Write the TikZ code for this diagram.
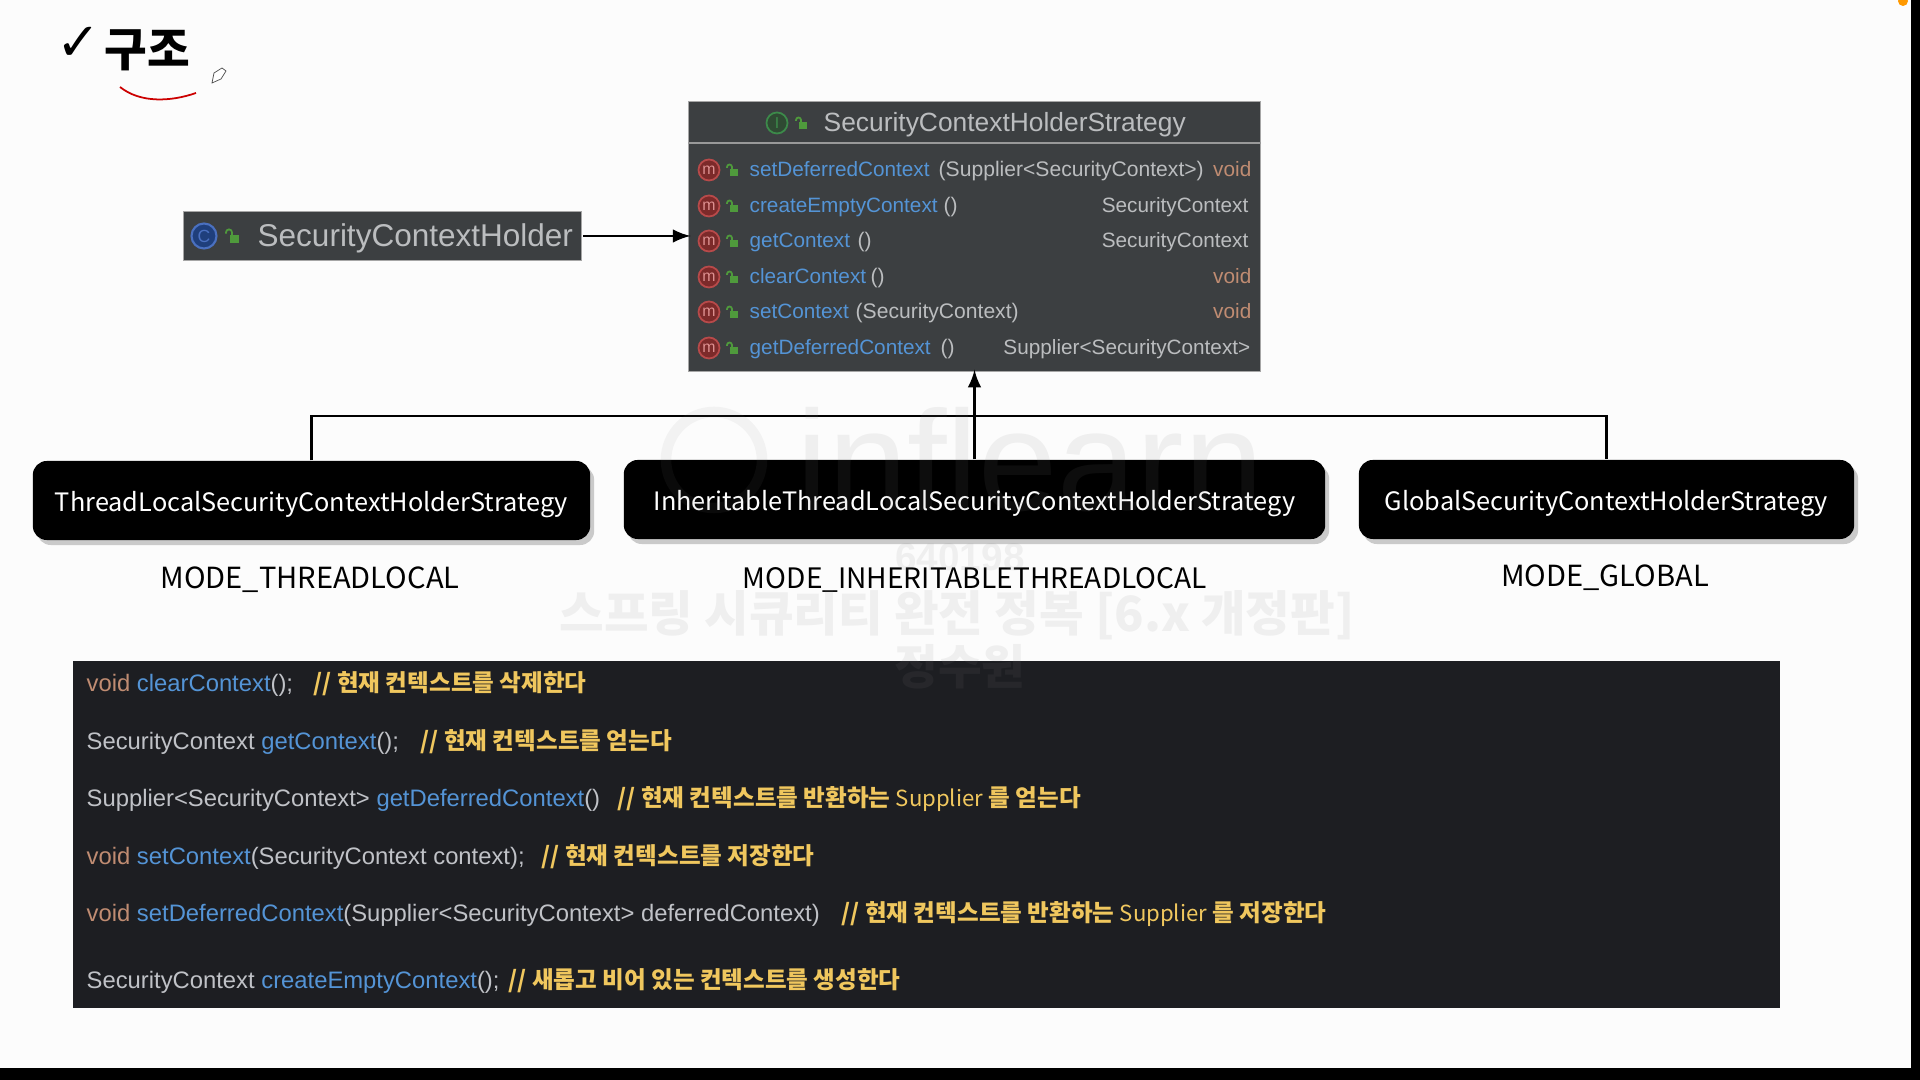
\documentclass[tikz,border=0pt]{standalone}
\usepackage{fontspec}
\usepackage{xcolor}
\usetikzlibrary{shapes,arrows,positioning,calc,shadows}
\setmainfont{Liberation Sans}
\newfontfamily\krfont{Noto Sans CJK KR}
\newfontfamily\symfont{DejaVu Sans}
\definecolor{umlfill}{HTML}{3C3F41}
\definecolor{umltext}{HTML}{BBBDBF}
\definecolor{methodblue}{HTML}{5494D6}
\definecolor{voidtan}{HTML}{C08C72}
\definecolor{panelfill}{HTML}{1D1E22}
\definecolor{codegray}{HTML}{C0C2C7}
\definecolor{cmtyellow}{HTML}{F0C75E}
\definecolor{lockgreen}{HTML}{4F9A3C}
\definecolor{mring}{HTML}{B84A4A}
\definecolor{mcore}{HTML}{7C2A2A}
\definecolor{mletter}{HTML}{DD9090}
\definecolor{iring}{HTML}{3C8A4A}
\definecolor{icore}{HTML}{2F4A33}
\definecolor{cring}{HTML}{4A70C0}
\definecolor{ccore}{HTML}{1F3F7C}
\newcommand{\fsz}[1]{\fontsize{#1}{#1}\selectfont}
\tikzset{
  umlbox/.style={fill=umlfill, draw=gray!70, line width=0.2pt, inner sep=0pt},
  umlname/.style={text=umltext, anchor=base west, inner sep=0pt, font=\fsz{7.5}},
  umlfunc/.style={text=methodblue, anchor=base west, inner sep=0pt, font=\fsz{5.9}},
  umlarg/.style={text=umltext, anchor=base west, inner sep=0pt, font=\fsz{6}},
  umlret/.style={text=umltext, anchor=base east, inner sep=0pt, font=\fsz{5.9}},
  umlvoid/.style={text=voidtan, anchor=base east, inner sep=0pt, font=\fsz{5.9}},
  micon/.style={circle, draw=mring, fill=mcore, text=mletter, line width=0.5pt, minimum size=0.21cm, inner sep=0pt, font=\fsz{4.5}},
  iicon/.style={circle, draw=iring, fill=icore, text=iring, line width=0.5pt, minimum size=0.21cm, inner sep=0pt, font=\fsz{4.5}},
  cicon/.style={circle, draw=cring, fill=ccore, text=cring, line width=0.6pt, minimum size=0.25cm, inner sep=0pt, font=\fsz{5}},
  stratbox/.style={fill=black, text=white, rounded corners=0.14cm, minimum height=0.79cm, inner sep=0pt, text height=7.3pt, text depth=1.3pt, font=\krfont\fsz{7.2}, drop shadow={shadow xshift=0.04cm, shadow yshift=-0.05cm, opacity=0.4}},
  modelabel/.style={text=black, inner sep=0pt, font=\krfont\fsz{8.27}},
  codeline/.style={text=codegray, anchor=base west, inner sep=0pt, font=\fsz{6.77}},
  cmtline/.style={text=cmtyellow, anchor=base west, inner sep=0pt, font=\krfont\bfseries\fsz{6.7}},
  wmark/.style={text=gray, text opacity=0.1, inner sep=0pt},
  conn/.style={draw=black, line width=0.75pt},
  lockic/.pic={
    \fill[lockgreen] (-2,-1) rectangle (6,6);
    \draw[lockgreen, line width=0.5pt] (0,-1) -- (0,-3) arc (0:-180:2.5) -- (-5,-2);
  }
}
\newcommand{\kw}[1]{\textcolor{voidtan}{#1}}
\newcommand{\fn}[1]{\textcolor{methodblue}{#1}}
\newcommand{\supword}{{\mdseries\fsz{6.3}Supplier}}
\begin{document}
\begin{tikzpicture}[x=0.01cm, y=-0.01cm]
        \useasboundingbox (0,0) rectangle (1920,1080);
        \fill[white!99!black] (0,0) rectangle (1920,1080);
        \fill[black] (1911,0) rectangle (1920,1080);
        \fill[black] (0,1068) rectangle (1920,1080);
        \fill[orange!80!yellow] (1903,1) circle (5);

        \node[anchor=center, inner sep=0pt, font=\symfont\bfseries\fsz{15}] (chk) at (79,44) {✓};
        \node[anchor=center, inner sep=0pt, font=\krfont\bfseries\fsz{13.2}] (title) at (147,50) {구조};
        \draw[red!80!black, line width=0.5pt] (120,87) .. controls (140,103) and (170,102) .. (196,93);
        \draw[black!70, line width=0.2pt, fill=white] (212,83) -- (214,73) -- (222,68) -- (226,71) -- (221,79) -- cycle;

        \node[umlbox, minimum width=3.98cm, minimum height=0.49cm] (holder) at (382,236) {};
        \node[cicon] (holderic) at (204,236) {C};
        \pic[scale=1.2] at (232,236) {lockic};
        \node[umlname, font=\fsz{8.96}] (holdername) at (257,247) {SecurityContextHolder};

        \node[umlbox, minimum width=5.71cm, minimum height=2.70cm] (strategy) at (974.5,236) {};
        \draw[gray!80, line width=0.3pt] (strategy.west |- 0,143) -- (strategy.east |- 0,143);
        \node[iicon] (strategyic) at (777,123) {I};
        \pic at (801,123) {lockic};
        \node[umlname] (strategyname) at (823,132) {SecurityContextHolderStrategy};

        \node[micon] (m1) at (709,170) {m};
        \pic at (732,170) {lockic};
        \node[umlfunc] (f1) at (749,177) {setDeferredContext};
        \node[umlarg] (a1) at (938,177) {(Supplier<SecurityContext>)};
        \node[umlvoid] (r1) at (1252,177) {void};

        \node[micon] (m2) at (709,206) {m};
        \pic at (732,206) {lockic};
        \node[umlfunc] (f2) at (749,213) {createEmptyContext};
        \node[umlarg] (a2) at (943,213) {()};
        \node[umlret] (r2) at (1249,213) {SecurityContext};

        \node[micon] (m3) at (709,241) {m};
        \pic at (732,241) {lockic};
        \node[umlfunc] (f3) at (749,248) {getContext};
        \node[umlarg] (a3) at (857,248) {()};
        \node[umlret] (r3) at (1249,248) {SecurityContext};

        \node[micon] (m4) at (709,277) {m};
        \pic at (732,277) {lockic};
        \node[umlfunc] (f4) at (749,284) {clearContext};
        \node[umlarg] (a4) at (870,284) {()};
        \node[umlvoid] (r4) at (1252,284) {void};

        \node[micon] (m5) at (709,312) {m};
        \pic at (732,312) {lockic};
        \node[umlfunc] (f5) at (749,319) {setContext};
        \node[umlarg] (a5) at (855,319) {(SecurityContext)};
        \node[umlvoid] (r5) at (1252,319) {void};

        \node[micon] (m6) at (709,348) {m};
        \pic at (732,348) {lockic};
        \node[umlfunc] (f6) at (749,355) {getDeferredContext};
        \node[umlarg] (a6) at (940,355) {()};
        \node[umlret] (r6) at (1251,355) {Supplier<SecurityContext>};

        \coordinate (trunk) at (974.5,416);
        \node[stratbox, minimum width=5.57cm] (threadlocal) at (311.5,500.5) {ThreadLocalSecurityContextHolderStrategy};
        \node[stratbox, minimum width=7.01cm] (inheritable) at (974.5,499.5) {InheritableThreadLocalSecurityContextHolderStrategy};
        \node[stratbox, minimum width=4.95cm] (global) at (1606.5,499.5) {GlobalSecurityContextHolderStrategy};
        \node[modelabel] (mode1) at (310,580) {MODE\_THREADLOCAL};
        \node[modelabel, font=\krfont\fsz{8}] (mode2) at (975,580) {MODE\_INHERITABLETHREADLOCAL};
        \node[modelabel] (mode3) at (1605,578) {MODE\_GLOBAL};

        \draw[conn] (threadlocal.north) |- (trunk) -| (global.north);
        \draw[conn, ->, >=latex, shorten >=-0.5pt] (inheritable.north) -- (strategy.south);
        \draw[conn, ->, >=latex, shorten >=-0.6pt] (holder.east) ++(2,0) -- (strategy.west |- holder.east);

        \node[fill=panelfill, minimum width=17.06cm, minimum height=3.47cm, inner sep=0pt] (panel) at (926,834.5) {};
        \node[codeline] (c1) at (86,692) {\kw{void} \fn{clearContext}();};
        \node[cmtline] (k1) at (313,692) {// 현재 컨텍스트를 삭제한다};
        \node[codeline] (c2) at (86,750) {SecurityContext \fn{getContext}();};
        \node[cmtline] (k2) at (420,750) {// 현재 컨텍스트를 얻는다};
        \node[codeline] (c3) at (86,807) {Supplier<SecurityContext> \fn{getDeferredContext}()};
        \node[cmtline] (k3) at (617,807) {// 현재 컨텍스트를 반환하는 \supword{} 를 얻는다};
        \node[codeline] (c4) at (86,865) {\kw{void} \fn{setContext}(SecurityContext context);};
        \node[cmtline] (k4) at (541,865) {// 현재 컨텍스트를 저장한다};
        \node[codeline] (c5) at (86,922) {\kw{void} \fn{setDeferredContext}(Supplier<SecurityContext> deferredContext)};
        \node[cmtline] (k5) at (841,922) {// 현재 컨텍스트를 반환하는 \supword{} 를 저장한다};
        \node[codeline] (c6) at (86,989) {SecurityContext \fn{createEmptyContext}();};
        \node[cmtline] (k6) at (508,989) {// 새롭고 비어 있는 컨텍스트를 생성한다};

        \draw[gray, draw opacity=0.08, line width=3pt] (714,460) circle (48);
        \node[wmark, font=\fsz{40.5}] (wm1) at (1030,460) {inflearn};
        \node[wmark, font=\bfseries\fsz{11}] (wm2) at (960,557) {640198};
        \node[wmark, font=\krfont\bfseries\fsz{13.8}] (wm3) at (957,615) {스프링 시큐리티 완전 정복 [6.x 개정판]};
        \node[wmark, font=\krfont\bfseries\fsz{13.5}] (wm4) at (960,667) {정수원};
    \end{tikzpicture}
\end{document}
